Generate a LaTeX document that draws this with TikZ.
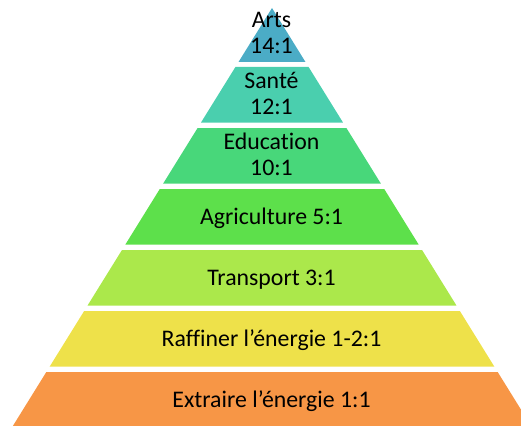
\documentclass[tikz,border=0pt]{standalone}
\usepackage{fontspec}
\setmainfont{Carlito}[Ligatures=NoCommon]
\definecolor{cArts}{HTML}{4BACC6}
\definecolor{cSante}{HTML}{4ACFAE}
\definecolor{cEdu}{HTML}{48D77A}
\definecolor{cAgri}{HTML}{5DE04B}
\definecolor{cTrans}{HTML}{ABE84B}
\definecolor{cRaff}{HTML}{EEE14A}
\definecolor{cExtr}{HTML}{F79646}
\tikzset{
  lbl/.style={anchor=base, inner sep=0pt, text=black, font=\fontsize{23.8}{26.3}\selectfont},
}
\begin{document}
\begin{tikzpicture}[x=1pt,y=-1pt]
\useasboundingbox (0,0) rectangle (521,425);
\begin{scope}
\clip (0,0) rectangle (521,425);
% apex layer
\fill[cArts] (272,8) -- ({272+0.62*(62-8)},62) -- ({272-0.62*(62-8)},62) -- cycle;
% trapezoid layers
\foreach \t/\b/\c in {67/122.5/cSante, 128/183.5/cEdu, 189/244.5/cAgri, 250/305.5/cTrans, 311/366.5/cRaff, 372/427.5/cExtr}{
  \fill[\c] ({272-0.62*(\t-8)},\t) -- ({272+0.62*(\t-8)},\t) -- ({272+0.62*(\b-8)},\b) -- ({272-0.62*(\b-8)},\b) -- cycle;
}
\end{scope}
\node[lbl] (arts1) at (271.5,27.7) {Arts};
\node[lbl] (arts2) at (271.5,54) {14:1};
\node[lbl] (sante1) at (271.5,88.3) {Santé};
\node[lbl] (sante2) at (271.5,114) {12:1};
\node[lbl] (edu1) at (271.5,149.3) {Education};
\node[lbl] (edu2) at (271.5,175) {10:1};
\node[lbl] (agri) at (271.5,224) {Agriculture 5:1};
\node[lbl] (trans) at (271.5,285) {Transport 3:1};
\node[lbl] (raff) at (271.5,346) {Raffiner l’énergie 1-2:1};
\node[lbl] (extr) at (271.5,407) {Extraire l’énergie 1:1};
\end{tikzpicture}
\end{document}
